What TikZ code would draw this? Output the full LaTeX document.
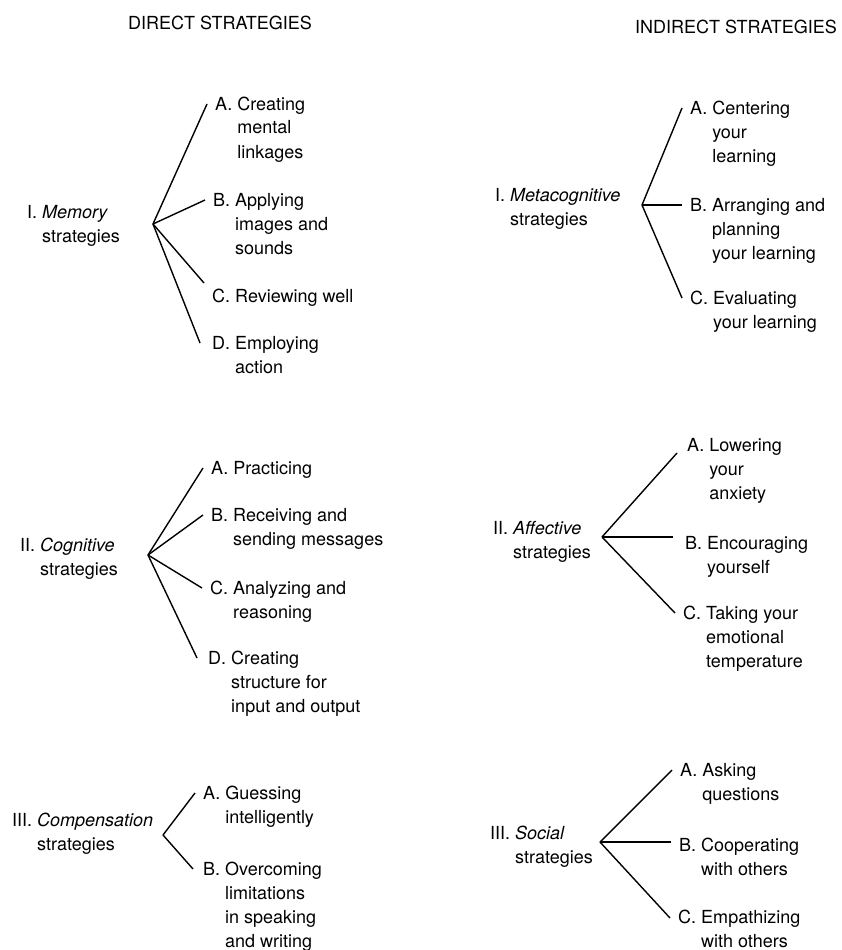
\documentclass[tikz,border=0pt]{standalone}
\usepackage{fontspec}
\setmainfont{TeX Gyre Heros}
\newcommand{\hang}[2]{#1\ \begin{tabular}[t]{@{}l@{}}#2\end{tabular}}

\begin{document}
\begin{tikzpicture}[x=1pt,y=-1pt,
    every node/.style={font=\fontsize{18}{24}\selectfont,inner sep=0pt},
    head/.style={anchor=center},
    group/.style={anchor=base west},
    leaf/.style={anchor=base west},
    branch end/.style={xshift=-8pt,yshift=6pt},
    branch/.style={line width=1.4pt}]
    \useasboundingbox (0,0) rectangle (841,950);

    \node[head] (direct) at (220,23) {DIRECT STRATEGIES};
    \node[head] (indirect) at (736,27) {INDIRECT STRATEGIES};

    % direct strategies
    \node[group] (memory) at (27,218) {\hang{I.}{\textit{Memory}\\strategies}};
    \coordinate (memHub) at (153,224);
    \node[leaf] (memA) at (215,110) {\hang{A.}{Creating\\mental\\linkages}};
    \node[leaf] (memB) at (213,206) {\hang{B.}{Applying\\images and\\sounds}};
    \node[leaf] (memC) at (212,302) {C. Reviewing well};
    \node[leaf] (memD) at (212,349) {\hang{D.}{Employing\\action}};

    \node[group] (cognitive) at (20,551) {\hang{II.}{\textit{Cognitive}\\strategies}};
    \coordinate (cogHub) at (148,555);
    \node[leaf] (cogA) at (211,474) {A. Practicing};
    \node[leaf] (cogB) at (211,521) {\hang{B.}{Receiving and\\sending messages}};
    \node[leaf] (cogC) at (210,594) {\hang{C.}{Analyzing and\\reasoning}};
    \node[leaf] (cogD) at (208,664) {\hang{D.}{Creating\\structure for\\input and output}};

    \node[group] (compensation) at (12,826) {\hang{III.}{\textit{Compensation}\\strategies}};
    \coordinate (comHub) at (163,835);
    \node[leaf] (comA) at (203,799) {\hang{A.}{Guessing\\intelligently}};
    \node[leaf] (comB) at (203,875) {\hang{B.}{Overcoming\\limitations\\in speaking\\and writing}};

    % indirect strategies
    \node[group] (metacognitive) at (495,201) {\hang{I.}{\textit{Metacognitive}\\strategies}};
    \coordinate (metaHub) at (642,205);
    \node[leaf] (metaA) at (690,114) {\hang{A.}{Centering\\your\\learning}};
    \node[leaf] (metaB) at (690,211) {\hang{B.}{Arranging and\\planning\\your learning}};
    \node[leaf] (metaC) at (690,304) {\hang{C.}{Evaluating\\your learning}};

    \node[group] (affective) at (493,534) {\hang{II.}{\textit{Affective}\\strategies}};
    \coordinate (affHub) at (602,537);
    \node[leaf] (affA) at (687,451) {\hang{A.}{Lowering\\your\\anxiety}};
    \node[leaf] (affB) at (685,549) {\hang{B.}{Encouraging\\yourself}};
    \node[leaf] (affC) at (683,619) {\hang{C.}{Taking your\\emotional\\temperature}};

    \node[group] (social) at (490,839) {\hang{III.}{\textit{Social}\\strategies}};
    \coordinate (socHub) at (600,842);
    \node[leaf] (socA) at (680,776) {\hang{A.}{Asking\\questions}};
    \node[leaf] (socB) at (679,851) {\hang{B.}{Cooperating\\with others}};
    \node[leaf] (socC) at (678,923) {\hang{C.}{Empathizing\\with others}};

    \path[branch]
        (memHub) edge ([branch end]memA.base west)
        (memHub) edge ([branch end]memB.base west)
        (memHub) edge ([branch end,yshift=13pt]memC.base west)
        (memHub) edge ([branch end,xshift=-4pt]memD.base west)
        (cogHub) edge ([branch end]cogA.base west)
        (cogHub) edge ([branch end]cogB.base west)
        (cogHub) edge ([branch end]cogC.base west)
        (cogHub) edge ([branch end,xshift=-3pt]cogD.base west)
        (comHub) edge ([branch end]comA.base west)
        (comHub) edge ([branch end,xshift=-2pt]comB.base west)
        (metaHub) edge ([branch end]metaA.base west)
        (metaHub) edge ([branch end]metaB.base west)
        (metaHub) edge ([branch end]metaC.base west)
        (affHub) edge ([branch end,xshift=-2pt,yshift=-8pt]affA.base west)
        (affHub) edge ([branch end,xshift=-4pt,yshift=6pt]affB.base west)
        (affHub) edge ([branch end]affC.base west)
        (socHub) edge ([branch end]socA.base west)
        (socHub) edge ([branch end,yshift=3pt]socB.base west)
        (socHub) edge ([branch end,yshift=-1pt]socC.base west)
        ;
\end{tikzpicture}
\end{document}
